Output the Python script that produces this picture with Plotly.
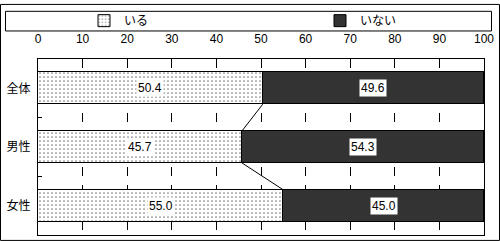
import plotly.graph_objects as go

categories = ["全体", "男性", "女性"]
iru = [50.4, 45.7, 55.0]
inai = [49.6, 54.3, 45.0]
series_names = ["いる", "いない"]
x_ticks = list(range(0, 101, 10))

W, H = 500, 241
L, R, T, B = 38, 16, 56, 6
pw, ph = W - L - R, H - T - B

def px_x(p):
    return (p - L) / pw

def px_y(p):
    return (H - B - p) / ph

ypos = list(range(len(categories)))
bar_w = 0.54
font = "Liberation Sans, Noto Sans CJK JP, sans-serif"

fig = go.Figure()
fig.add_trace(go.Bar(
    y=ypos, x=iru, orientation="h", name=series_names[0], width=bar_w,
    marker=dict(color="white", line=dict(color="black", width=1),
                pattern=dict(shape=".", size=4, solidity=0.15, fgcolor="black", bgcolor="white")),
    legend="legend", hoverinfo="skip",
))
fig.add_trace(go.Bar(
    y=ypos, x=inai, orientation="h", name=series_names[1], width=bar_w,
    marker=dict(color="#333333", line=dict(color="black", width=1)),
    legend="legend2", hoverinfo="skip",
))

# connector lines between end of "いる" bars
for i in range(len(categories) - 1):
    fig.add_trace(go.Scatter(
        x=[iru[i], iru[i + 1]], y=[ypos[i] + bar_w / 2, ypos[i + 1] - bar_w / 2],
        mode="lines", line=dict(color="black", width=1), showlegend=False, hoverinfo="skip",
    ))

# value labels
for i in range(len(categories)):
    fig.add_annotation(x=iru[i] / 2, y=ypos[i], text=f"{iru[i]:.1f}", showarrow=False,
                       bgcolor="white", borderpad=1, font=dict(size=12, color="black", family=font))
    fig.add_annotation(x=iru[i] + inai[i] / 2, y=ypos[i], text=f"{inai[i]:.1f}", showarrow=False,
                       bgcolor="white", borderpad=1, font=dict(size=12, color="black", family=font))

shapes = [
    dict(type="rect", xref="paper", yref="paper", x0=px_x(5.5), x1=px_x(491.5), y0=px_y(7.5), y1=px_y(27.5),
         line=dict(color="black", width=1), fillcolor="rgba(0,0,0,0)"),
    dict(type="rect", xref="paper", yref="paper", x0=px_x(0.5), x1=px_x(499.5), y0=px_y(0.5), y1=px_y(240.5),
         line=dict(color="black", width=1), fillcolor="rgba(0,0,0,0)"),
]

fig.update_layout(
    width=W, height=H, margin=dict(l=L, r=R, t=T, b=B),
    paper_bgcolor="white", plot_bgcolor="white",
    barmode="stack", bargap=0,
    font=dict(family=font, size=12, color="black"),
    shapes=shapes,
    legend=dict(orientation="h", x=px_x(119), xanchor="center", y=px_y(17), yanchor="middle",
                bgcolor="rgba(0,0,0,0)", font=dict(size=12), itemwidth=30),
    legend2=dict(orientation="h", x=px_x(361), xanchor="center", y=px_y(17), yanchor="middle",
                 bgcolor="rgba(0,0,0,0)", font=dict(size=12), itemwidth=30),
    xaxis=dict(side="top", range=[0, 100], tickvals=x_ticks, ticktext=[str(v) for v in x_ticks],
               showgrid=True, gridcolor="black", griddash="dash", gridwidth=1, zeroline=False,
               showline=True, linecolor="black", linewidth=1, mirror=True, ticks="",
               ticklabelstandoff=10, tickfont=dict(size=12), fixedrange=True),
    yaxis=dict(range=[2.5, -0.5], tickvals=ypos, ticktext=categories, showgrid=False, zeroline=False,
               showline=True, linecolor="black", linewidth=1, mirror=True, ticks="",
               ticklabelstandoff=4, tickfont=dict(size=12),
               minor=dict(tickvals=[0.5, 1.5], ticks="inside", ticklen=4, tickcolor="black", showgrid=False),
               fixedrange=True),
)

fig.write_html("out.html")
